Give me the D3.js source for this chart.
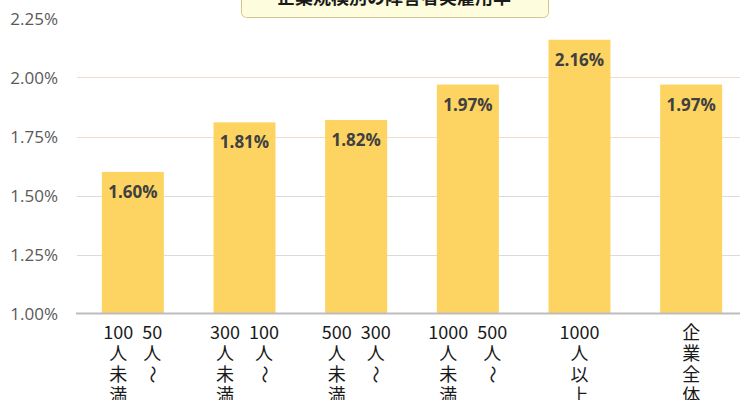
<!DOCTYPE html>
<html><head><meta charset="utf-8">
<script src="https://cdn.jsdelivr.net/npm/d3@7"></script>
<style>body{margin:0;background:#fff}</style>
</head><body>
<svg id="c" width="740" height="400"></svg>
<script>
const title = "企業規模別の障害者実雇用率";
const categories = ["50人～100人未満", "100人～300人未満", "300人～500人未満", "500人～1000人未満", "1000人以上", "企業全体"];
const values = [1.60, 1.81, 1.82, 1.97, 2.16, 1.97];
const valueLabels = ["1.60%", "1.81%", "1.82%", "1.97%", "2.16%", "1.97%"];
// vertical tick labels: columns listed right-to-left, tokens top-to-bottom
const tickColumns = [
  [["50", "人", "～"], ["100", "人", "未", "満"]],
  [["100", "人", "～"], ["300", "人", "未", "満"]],
  [["300", "人", "～"], ["500", "人", "未", "満"]],
  [["500", "人", "～"], ["1000", "人", "未", "満"]],
  [["1000", "人", "以", "上"]],
  [["企", "業", "全", "体"]]
];
const yTicks = [1.00, 1.25, 1.50, 1.75, 2.00, 2.25];
const yTickLabels = ["1.00%", "1.25%", "1.50%", "1.75%", "2.00%", "2.25%"];

const svg = d3.select("#c");
const x = d3.scaleBand().domain(categories).range([77, 747]).paddingInner(0.445).paddingOuter(0.2225);
const y = d3.scaleLinear().domain([1, 2.25]).range([313.5, 18.5]);

// gridlines
svg.append("g").selectAll("line").data(yTicks.filter(t => t > 1 && t < 2.25)).join("line")
  .attr("x1", 77).attr("x2", 740).attr("y1", d => Math.round(y(d)) + 0.5).attr("y2", d => Math.round(y(d)) + 0.5)
  .attr("stroke", d => d >= 1.75 ? "#efdccd" : "#dedad6").attr("stroke-width", 1.2);

// y tick labels
svg.append("g").selectAll("text").data(yTicks).join("text")
  .attr("x", 58).attr("y", d => y(d)).attr("dy", "0.36em")
  .attr("text-anchor", "end")
  .style("font-family", "'Open Sans', sans-serif").style("font-size", "17px").attr("fill", "#595959")
  .text((d, i) => yTickLabels[i]);

// bars
svg.append("g").selectAll("rect").data(values).join("rect")
  .attr("x", (d, i) => x(categories[i])).attr("width", x.bandwidth())
  .attr("y", d => y(d)).attr("height", d => y(1) - y(d))
  .attr("fill", "#fdd462");

// axis line
svg.append("line").attr("x1", 76).attr("x2", 740).attr("y1", y(1)).attr("y2", y(1))
  .attr("stroke", "#bdbdbd").attr("stroke-width", 2);

// value labels
svg.append("g").selectAll("text").data(values).join("text")
  .attr("x", (d, i) => x(categories[i]) + x.bandwidth() / 2)
  .attr("y", d => y(d) + 26)
  .attr("text-anchor", "middle")
  .style("font-family", "'Open Sans', sans-serif").style("font-size", "17px").style("font-weight", "bold")
  .attr("fill", "#404040")
  .text((d, i) => valueLabels[i]);

// vertical category labels
const tickFont = "'Noto Sans CJK JP', sans-serif";
const tickSize = "18px";
const gTicks = svg.append("g");
const measure = svg.append("text").style("font-family", tickFont).style("font-size", tickSize);
const gap = 9;
tickColumns.forEach((cols, ci) => {
  const cx = x(categories[ci]) + x.bandwidth() / 2;
  const widths = cols.map(col => d3.max(col, t => { measure.text(t); return measure.node().getComputedTextLength(); }));
  const total = d3.sum(widths) + gap * (cols.length - 1);
  let right = cx + total / 2;
  cols.forEach((col, k) => {
    const colCx = right - widths[k] / 2;
    right -= widths[k] + gap;
    col.forEach((t, r) => {
      const base = 339 + r * 21;
      const el = gTicks.append("text")
        .style("font-family", tickFont).style("font-size", tickSize).attr("fill", "#1a1a1a")
        .attr("text-anchor", "middle").text(t);
      if (t === "～") {
        el.attr("x", 0).attr("y", 0).attr("dy", "0.35em")
          .attr("transform", `translate(${colCx},${base - 6.5}) rotate(90)`);
      } else {
        el.attr("x", colCx).attr("y", base);
      }
    });
  });
});
measure.remove();

// title box (partially cut off at the top)
svg.append("rect").attr("x", 241.5).attr("y", -12).attr("width", 307).attr("height", 29.5).attr("rx", 5)
  .attr("fill", "#fdfcdd").attr("stroke", "#d5c48e").attr("stroke-width", 1);
svg.append("text").attr("x", 394).attr("y", 4).attr("text-anchor", "middle")
  .style("font-family", tickFont).style("font-size", "18px").style("font-weight", "bold").attr("fill", "#1a1a1a")
  .text(title);
</script>
</body></html>
